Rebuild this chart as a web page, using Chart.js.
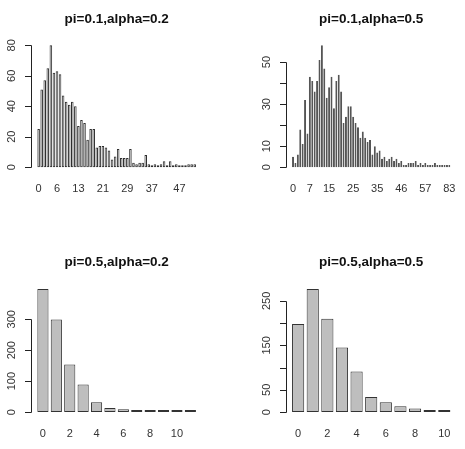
<!DOCTYPE html>
<html>
<head>
<meta charset="utf-8">
<script src="https://cdn.jsdelivr.net/npm/chart.js@4/dist/chart.umd.min.js"></script>
<style>
	html, body { margin: 0; padding: 0; background: #fff; }
	#wrap { position: relative; width: 465px; height: 449px; overflow: hidden; }
	#wrap canvas { position: absolute; }
</style>
</head>
<body>
<div id="wrap"></div>
<script>
// panel 1: pi=0.1, alpha=0.2
const p1Names = [0,1,2,3,4,5,6,7,8,9,10,11,12,13,14,15,16,17,18,19,20,21,22,23,24,25,26,27,28,29,30,31,32,33,34,35,36,37,
	39,40,41,42,43,44,45,46,47,48,49,51,53,56];
const p1Counts = [25,51,57,65,80,62,63,61,47,43,41,43,40,27,31,29,18,25,25,13,14,14,13,11,5,7,12,6,6,6,12,3,2,3,3,8,2,1,
	2,1,2,4,1,4,1,2,1,1,1,2,2,2];
const p1XLabels = [0,6,13,21,29,37,47];
const p1YTicks = [0,20,40,60,80];
const p1YLabels = [0,20,40,60,80];

// panel 2: pi=0.1, alpha=0.5
const p2Names = [0,1,2,3,4,5,6,7,8,9,10,11,12,13,14,15,16,17,18,19,20,21,22,23,24,25,26,27,28,29,30,31,32,33,34,35,36,37,38,39,
	41,42,43,44,45,46,47,48,49,50,51,52,53,54,55,57,58,59,60,62,64,66,69,72,76,83];
const p2Counts = [5,2,6,18,11,32,16,43,41,36,41,51,58,47,33,38,43,28,41,44,36,21,24,29,29,24,21,19,14,17,14,12,13,6,10,7,8,4,5,3,
	4,5,3,4,2,3,1,1,2,2,2,3,1,2,1,2,1,1,1,2,1,1,1,1,1,1];
const p2XLabels = [0,7,15,25,35,46,57,83];
const p2YTicks = [0,10,20,30,40,50];
const p2YLabels = [0,10,30,50];

// panel 3: pi=0.5, alpha=0.2
const p3Names = [0,1,2,3,4,5,6,7,8,9,10,11];
const p3Counts = [398,299,154,89,32,13,9,6,3,3,1,1];
const p3XLabels = [0,2,4,6,8,10];
const p3YTicks = [0,100,200,300];
const p3YLabels = [0,100,200,300];

// panel 4: pi=0.5, alpha=0.5
const p4Names = [0,1,2,3,4,5,6,7,8,9,10];
const p4Counts = [198,277,210,145,91,34,22,13,8,4,3];
const p4XLabels = [0,2,4,6,8,10];
const p4YTicks = [0,50,100,150,200,250];
const p4YLabels = [0,50,150,250];

const FONT = '"Liberation Sans", Arial, Helvetica, sans-serif';

// canvas quadrant and R plot region (page px)
const panels = [
	{ title: 'pi=0.1,alpha=0.2', names: p1Names, counts: p1Counts, xl: p1XLabels, yt: p1YTicks, yl: p1YLabels,
		box: [0, 0, 232, 225], plot: [31, 202.3, 40.4, 172.1], edge: '#2e2e2e' },
	{ title: 'pi=0.1,alpha=0.5', names: p2Names, counts: p2Counts, xl: p2XLabels, yt: p2YTicks, yl: p2YLabels,
		box: [232, 0, 233, 225], plot: [285.7, 456.7, 40.4, 172.1], edge: '#555' },
	{ title: 'pi=0.5,alpha=0.2', names: p3Names, counts: p3Counts, xl: p3XLabels, yt: p3YTicks, yl: p3YLabels,
		box: [0, 225, 232, 224], plot: [31, 202.3, 284, 417], edge: '#333' },
	{ title: 'pi=0.5,alpha=0.5', names: p4Names, counts: p4Counts, xl: p4XLabels, yt: p4YTicks, yl: p4YLabels,
		box: [232, 225, 233, 224], plot: [285.7, 456.7, 284, 417], edge: '#333' }
];

const rAxes = {
	id: 'rAxes',
	afterDraw(chart, args, opts) {
		const { ctx, scales: { x, y } } = chart;
		const p = opts.panel;
		const axX = Math.round(p.plotLeft) + 0.5;
		ctx.save();
		// title
		ctx.fillStyle = '#111';
		ctx.font = 'bold 13.5px ' + FONT;
		ctx.textAlign = 'center';
		ctx.textBaseline = 'middle';
		ctx.fillText(p.title, p.plotMid, p.plotTop - 21.4);
		// y axis line + ticks
		ctx.strokeStyle = '#222';
		ctx.lineWidth = 1;
		ctx.beginPath();
		const yTop = Math.round(y.getPixelForValue(p.yt[p.yt.length - 1])) + 0.5;
		const yBot = Math.round(y.getPixelForValue(p.yt[0])) + 0.5;
		ctx.moveTo(axX, yTop);
		ctx.lineTo(axX, yBot);
		p.yt.forEach(v => {
			const py = Math.round(y.getPixelForValue(v)) + 0.5;
			ctx.moveTo(axX, py);
			ctx.lineTo(axX - 6.5, py);
		});
		ctx.stroke();
		ctx.fillStyle = '#333';
		ctx.font = '11px ' + FONT;
		p.yl.forEach(v => {
			const py = y.getPixelForValue(v);
			ctx.save();
			ctx.translate(p.plotLeft - 19, py);
			ctx.rotate(-Math.PI / 2);
			ctx.fillText(String(v), 0, 0);
			ctx.restore();
		});
		// x labels (category names)
		p.names.forEach((n, i) => {
			if (!p.xl.includes(n)) return;
			ctx.fillText(String(n), x.getPixelForValue(i), p.plotBottom + 16.5);
		});
		ctx.restore();
	}
};

const wrap = document.getElementById('wrap');
panels.forEach(pn => {
	const [ox, oy, cw, ch] = pn.box;
	const [x0, x1, y0, y1] = pn.plot;
	const n = pn.counts.length;
	// R barplot geometry: width 1, space 0.2, 4% axis extension
	const uMin = 0.2 - 0.04 * (1.2 * n - 0.2);
	const uMax = 1.2 * n + 0.04 * (1.2 * n - 0.2);
	const ppu = (x1 - x0) / (uMax - uMin);
	const areaL = x0 + (0.1 - uMin) * ppu;
	const areaR = x0 + (0.1 + 1.2 * n - uMin) * ppu;
	const yMax = Math.max(...pn.counts);

	const cv = document.createElement('canvas');
	cv.width = cw; cv.height = ch;
	cv.style.left = ox + 'px'; cv.style.top = oy + 'px';
	cv.style.width = cw + 'px'; cv.style.height = ch + 'px';
	wrap.appendChild(cv);

	new Chart(cv, {
		type: 'bar',
		data: {
			labels: pn.names.map(String),
			datasets: [{
				data: pn.counts,
				backgroundColor: '#bebebe',
				borderColor: pn.edge,
				borderWidth: 1,
				borderSkipped: false,
				minBarLength: 2,
				barPercentage: 1 / 1.2,
				categoryPercentage: 1
			}]
		},
		options: {
			responsive: false,
			animation: false,
			devicePixelRatio: 1,
			layout: { padding: { left: areaL - ox, right: ox + cw - areaR, top: y0 - oy, bottom: oy + ch - y1 } },
			plugins: {
				legend: { display: false },
				tooltip: { enabled: false },
				rAxes: { panel: {
					title: pn.title, names: pn.names, xl: pn.xl, yt: pn.yt, yl: pn.yl,
					plotLeft: x0 - ox, plotMid: (x0 + x1) / 2 - ox, plotTop: y0 - oy, plotBottom: y1 - oy
				} }
			},
			scales: {
				x: { display: false, offset: true },
				y: { display: false, min: -0.04 * yMax, max: 1.04 * yMax }
			}
		},
		plugins: [rAxes]
	});
});
</script>
</body>
</html>
